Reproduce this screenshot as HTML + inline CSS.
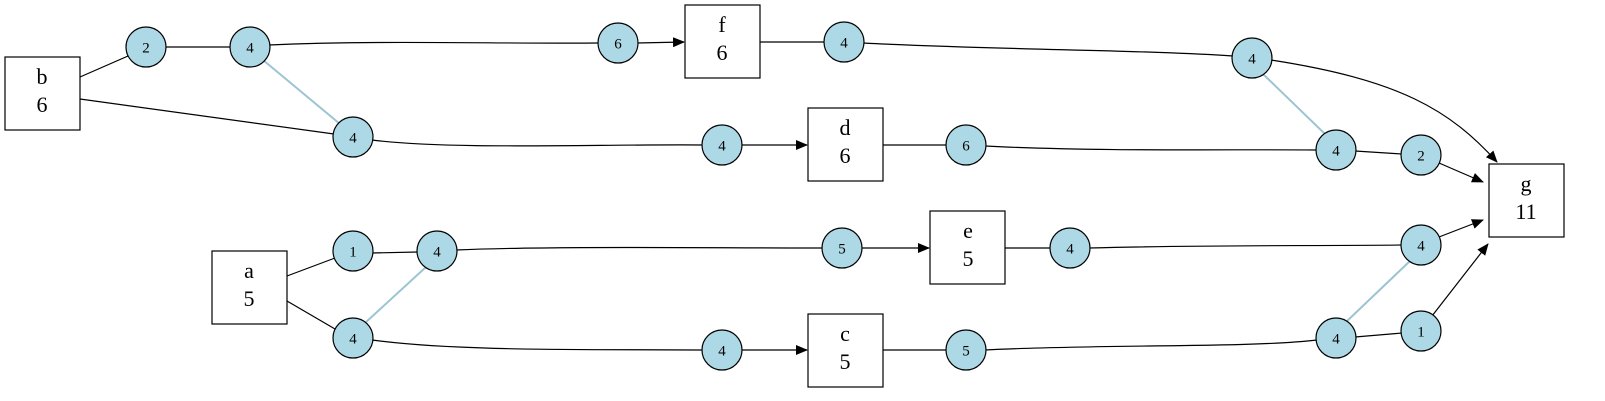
<!DOCTYPE html>
<html><head><meta charset="utf-8"><style>
html,body{margin:0;padding:0;background:#fff;}
svg{display:block;font-family:"Liberation Serif",serif;}
</style></head><body>
<svg width="1605" height="401" viewBox="0 0 1605 401">
<defs><marker id="ah" markerWidth="12" markerHeight="10" refX="11" refY="5" orient="auto" markerUnits="userSpaceOnUse"><path d="M0,0 L12,5 L0,10 z" fill="#000"/></marker></defs>
<g id="edges" fill="none" stroke="#000" stroke-width="1.2">
<path d="M80,77 L128,56"/>
<path d="M165,47 L231,47"/>
<path d="M269,45 C380,40 500,44 599,43"/>
<path d="M637,43 L684,42" marker-end="url(#ah)"/>
<path d="M80,99 L334,134"/>
<path d="M372,140 C450,150 600,144 703,145"/>
<path d="M741,145 L807,145" marker-end="url(#ah)"/>
<path d="M760,42 L825,42"/>
<path d="M863,43 C1000,50 1150,50 1233,56"/>
<path d="M1271,60 C1400,80 1450,110 1497,162" marker-end="url(#ah)"/>
<path d="M883,145 L947,145"/>
<path d="M985,146 C1100,152 1250,149 1317,150"/>
<path d="M1355,151 L1402,154"/>
<path d="M1439,163 L1483,182" marker-end="url(#ah)"/>
<path d="M287,276 L335,258"/>
<path d="M372,253 L418,252"/>
<path d="M456,250 C550,246 700,248 823,248"/>
<path d="M861,248 L929,248" marker-end="url(#ah)"/>
<path d="M1005,248 L1051,248"/>
<path d="M1089,248 C1200,245 1300,246 1402,245"/>
<path d="M1439,237 L1483,220" marker-end="url(#ah)"/>
<path d="M287,301 L335,329"/>
<path d="M372,340 C460,352 600,349 703,350"/>
<path d="M741,350 L807,350" marker-end="url(#ah)"/>
<path d="M883,350 L947,350"/>
<path d="M985,350 C1100,344 1250,348 1317,340"/>
<path d="M1355,337 L1402,333"/>
<path d="M1432,316 L1488,244" marker-end="url(#ah)"/>
</g>
<g stroke="#9cc4d2" stroke-width="2">
<line x1="263" y1="60" x2="340" y2="124"/>
<line x1="1263" y1="74" x2="1325" y2="134"/>
<line x1="426" y1="267" x2="365" y2="323"/>
<line x1="1346" y1="322" x2="1410" y2="261"/>
</g>
<g fill="#fff" stroke="#000" stroke-width="1.2" font-size="22" text-anchor="middle">
<g><rect x="5" y="57" width="75" height="73"/><text x="42" y="84" stroke="none" fill="#000">b</text><text x="42" y="112" stroke="none" fill="#000">6</text></g>
<g><rect x="685" y="5" width="75" height="73"/><text x="722" y="32" stroke="none" fill="#000">f</text><text x="722" y="60" stroke="none" fill="#000">6</text></g>
<g><rect x="808" y="108" width="75" height="73"/><text x="845" y="135" stroke="none" fill="#000">d</text><text x="845" y="163" stroke="none" fill="#000">6</text></g>
<g><rect x="212" y="251" width="75" height="73"/><text x="249" y="278" stroke="none" fill="#000">a</text><text x="249" y="306" stroke="none" fill="#000">5</text></g>
<g><rect x="930" y="211" width="75" height="73"/><text x="968" y="238" stroke="none" fill="#000">e</text><text x="968" y="266" stroke="none" fill="#000">5</text></g>
<g><rect x="808" y="314" width="75" height="73"/><text x="845" y="341" stroke="none" fill="#000">c</text><text x="845" y="369" stroke="none" fill="#000">5</text></g>
<g><rect x="1489" y="164" width="75" height="73"/><text x="1526" y="191" stroke="none" fill="#000">g</text><text x="1526" y="219" stroke="none" fill="#000">11</text></g>
</g>
<g id="circles"></g>
</svg>
<script>
const circleX=[146,250,618,353,722,844,1252,966,1336,1421,353,437,842,1070,1421,353,722,966,1336,1421];
const circleY=[47,47,43,137,145,42,58,145,150,155,251,251,248,248,245,338,350,350,338,331];
const circleLabels=["2","4","6","4","4","4","4","6","4","2","1","4","5","4","4","4","4","5","4","1"];
const g=document.getElementById('circles');
const ns='http://www.w3.org/2000/svg';
for(let i=0;i<circleX.length;i++){
  const grp=document.createElementNS(ns,'g');
  
  
  const c=document.createElementNS(ns,'circle');
  c.setAttribute('cx',circleX[i]);c.setAttribute('cy',circleY[i]);c.setAttribute('r',20);
  c.setAttribute('fill','#add8e6');c.setAttribute('stroke','#000');c.setAttribute('stroke-width','1.2');
  const t=document.createElementNS(ns,'text');
  t.setAttribute('x',circleX[i]);t.setAttribute('y',circleY[i]+5.5);
  t.setAttribute('text-anchor','middle');t.setAttribute('font-size','15');
  t.textContent=circleLabels[i];
  grp.appendChild(c);grp.appendChild(t);g.appendChild(grp);
}
</script>
</body></html>
